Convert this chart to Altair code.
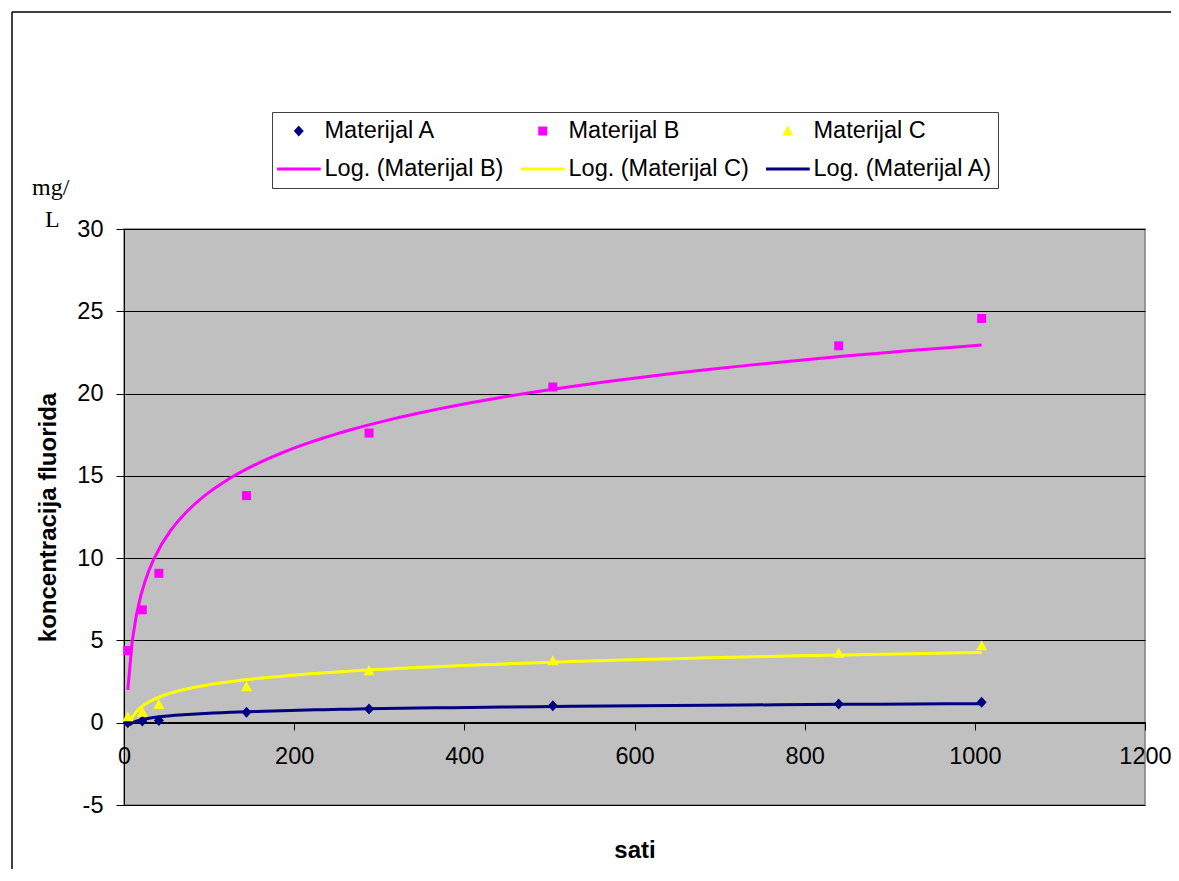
import altair as alt
import pandas as pd

# ---- data ----
hours = [4.5, 21.5, 41, 144, 288, 504, 840, 1008]
materijal_a = [0.0, 0.10, 0.14, 0.63, 0.83, 1.03, 1.14, 1.24]
materijal_b = [4.38, 6.86, 9.08, 13.8, 17.6, 20.4, 22.9, 24.56]
materijal_c = [0.36, 0.63, 1.10, 2.19, 3.16, 3.77, 4.22, 4.68]
series_names = ["Materijal A", "Materijal B", "Materijal C"]
x_ticks = [0, 200, 400, 600, 800, 1000, 1200]
y_ticks = [-5, 0, 5, 10, 15, 20, 25, 30]

rows = []
for name, vals in zip(series_names, [materijal_a, materijal_b, materijal_c]):
    for h, v in zip(hours, vals):
        rows.append({"sati": h, "conc": v, "material": name, "series": name})
df = pd.DataFrame(rows)

# legend entries (filled column by column: 2 rows x 3 columns)
legend_domain = ["Materijal A", "Log. (Materijal B)",
                 "Materijal B", "Log. (Materijal C)",
                 "Materijal C", "Log. (Materijal A)"]
fill_colors = ["#000080", "transparent", "#FF00FF", "transparent", "#FFFF00", "transparent"]
stroke_colors = ["transparent", "#FF00FF", "transparent", "#FFFF00", "transparent", "#000080"]

DIAMOND = "M0,-0.55L0.5,0L0,0.55L-0.5,0Z"
SQUARE = "M-0.45,-0.45H0.45V0.45H-0.45Z"
TRIANGLE = "M0,-0.55L0.55,0.45L-0.55,0.45Z"
LINE = "M-2.2,0H2.2"
legend_shapes = [DIAMOND, LINE, SQUARE, LINE, TRIANGLE, LINE]

fill_scale = alt.Scale(domain=legend_domain, range=fill_colors)
stroke_scale = alt.Scale(domain=legend_domain, range=stroke_colors)
shape_scale = alt.Scale(domain=legend_domain, range=legend_shapes)

FONT = "Liberation Sans"

legend = alt.Legend(
    title=None,
    orient="none",
    legendX=148,
    legendY=-117,
    columns=3,
    clipHeight=28,
    rowPadding=10,
    columnPadding=17,
    padding=5,
    symbolSize=400,
    symbolOffset=10,
    labelOffset=14,
    labelFont=FONT,
    labelFontSize=23.5,
    labelColor="black",
    labelLimit=400,
    strokeColor="#404040",
    fillColor="white",
    symbolStrokeWidth=3,
    symbolOpacity=1,
)

PLOT_W = 1021
PLOT_H = 576

x_enc = alt.X(
    "sati:Q",
    scale=alt.Scale(domain=[0, 1200], nice=False, zero=False),
    axis=alt.Axis(
        values=x_ticks,
        offset=-83,
        grid=False,
        tickSize=8,
        tickColor="black",
        domainColor="black",
        labelPadding=14,
        labelFont=FONT,
        labelFontSize=23.5,
        labelColor="black",
        labelFlush=False,
        labelOverlap=False,
        labelExpr="'' + datum.value",
        title="sati",
        titleFont=FONT,
        titleFontSize=24,
        titleFontWeight="bold",
        titleColor="black",
        titleX=PLOT_W / 2,
        titleY=135,
        titleBaseline="alphabetic",
        titleAlign="center",
    ),
)
y_enc = alt.Y(
    "conc:Q",
    scale=alt.Scale(domain=[-5, 30], nice=False, zero=False),
    axis=alt.Axis(
        values=y_ticks,
        grid=True,
        gridColor="black",
        gridWidth=1,
        tickSize=8,
        tickColor="black",
        domainColor="black",
        labelPadding=13,
        labelFont=FONT,
        labelFontSize=23.5,
        labelColor="black",
        labelOverlap=False,
        labelExpr="'' + datum.value",
        title="koncentracija fluorida",
        titleFont=FONT,
        titleFontSize=24,
        titleFontWeight="bold",
        titleColor="black",
        titleX=-69,
        titleY=PLOT_H / 2,
        titleBaseline="alphabetic",
        titleAlign="center",
    ),
)

base = alt.Chart(df)

trend = (
    base.transform_regression("sati", "conc", method="log", groupby=["material"])
    .transform_calculate(series="'Log. (' + datum.material + ')'")
    .mark_line(strokeWidth=3)
    .encode(
        x=x_enc,
        y=y_enc,
        stroke=alt.Stroke("series:N", scale=stroke_scale, legend=legend),
    )
)

points = base.mark_point(filled=True, opacity=1, strokeWidth=0, size=400).encode(
    x=x_enc,
    y=y_enc,
    fill=alt.Fill("series:N", scale=fill_scale, legend=legend),
    shape=alt.Shape("series:N", scale=shape_scale, legend=legend),
)

one = pd.DataFrame({"k": [0]})
border_left = alt.Chart(one).mark_rule(color="black", strokeWidth=1.5).encode(
    x=alt.value(-112), y=alt.value(-217), y2=alt.value(660)
)
border_top = alt.Chart(one).mark_rule(color="black", strokeWidth=1.5).encode(
    x=alt.value(-112), x2=alt.value(1070), y=alt.value(-217)
)
unit1 = alt.Chart(one).mark_text(
    text="mg/", font="Liberation Serif", fontSize=24, align="left", baseline="alphabetic", color="black"
).encode(x=alt.value(-92), y=alt.value(-34))
unit2 = alt.Chart(one).mark_text(
    text="L", font="Liberation Serif", fontSize=24, align="left", baseline="alphabetic", color="black"
).encode(x=alt.value(-79), y=alt.value(-2))

chart = (
    alt.layer(border_left, border_top, unit1, unit2, trend, points)
    .properties(
        width=PLOT_W,
        height=PLOT_H,
        autosize=alt.AutoSizeParams(type="none"),
        padding={"left": 116, "top": 221, "right": 26, "bottom": 64},
        background="white",
    )
    .configure_view(stroke="#808080", strokeWidth=1.5, fill="#C0C0C0")
)

chart.save("out.html", embed_options={"renderer": "svg", "actions": False})
